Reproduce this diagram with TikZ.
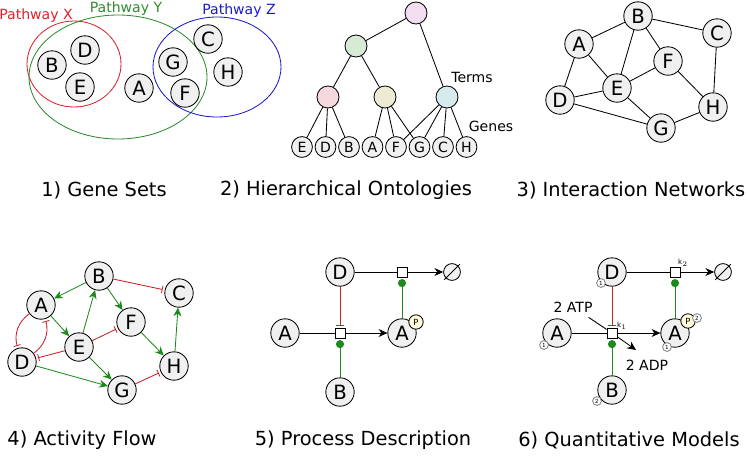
\documentclass[tikz,border=0pt]{standalone}
\usepackage{fontspec}
\setmainfont{DejaVu Sans}
\usetikzlibrary{arrows.meta, calc}

\definecolor{actgreen}{HTML}{1C8A1C}
\definecolor{inhred}{HTML}{C8202A}
\definecolor{setred}{HTML}{E0202A}
\definecolor{setgreen}{HTML}{2E8B2E}
\definecolor{setblue}{HTML}{1A1ACC}
\definecolor{termtop}{HTML}{F3DDF0}
\definecolor{termgreen}{HTML}{D6EAD6}
\definecolor{termpink}{HTML}{F6D9DC}
\definecolor{termyellow}{HTML}{EEEBD4}
\definecolor{termblue}{HTML}{D6EBEE}

\begin{document}
\begin{tikzpicture}[
    x=0.025cm, y=-0.025cm,
    every node/.style={font=\fontsize{14}{14}\selectfont},
    gen/.style={circle, draw, fill=gray!12, minimum size=7.1mm, inner sep=0pt},
    smallgen/.style={circle, draw, fill=gray!12, minimum size=5.2mm, inner sep=0pt, font=\fontsize{10}{10}\selectfont},
    term/.style={circle, draw, minimum size=5.5mm, inner sep=0pt},
    proc/.style={draw, fill=white, minimum size=2.5mm, inner sep=0pt},
    sink/.style={circle, draw, fill=gray!10, minimum size=4.2mm, inner sep=0pt},
    phos/.style={circle, draw, fill=yellow!15, minimum size=3.6mm, inner sep=0pt, font=\fontsize{6}{6}\selectfont},
    cnt/.style={circle, draw=gray, fill=white, minimum size=2.2mm, inner sep=0pt, font=\fontsize{4}{4}\selectfont},
    rate/.style={font=\fontsize{5}{5}\selectfont},
    lab/.style={font=\fontsize{10}{12}\selectfont},
    caption/.style={font=\fontsize{13.8}{16}\selectfont},
    act/.style={-{Stealth[length=2.2mm, width=2mm]}, color=actgreen},
    inh/.style={-{Bar[width=1.8mm]}, color=inhred, shorten >=1.5pt},
    cat/.style={-{Circle[length=2mm]}, color=actgreen, shorten >=1.2pt},
    flow/.style={-{Stealth[length=2.2mm, width=2mm]}},
    semithick,
    ]
    \useasboundingbox (0,0) rectangle (748,456);

    % 1) Gene Sets
    \draw[setred] (74,64) ellipse (47 and 43);
    \draw[setgreen] (118,77) ellipse (89 and 62);
    \draw[setblue] (217,67) ellipse (64 and 50);
    \node[lab, text=setred] (pwX) at (36,16) {Pathway X};
    \node[lab, text=setgreen] (pwY) at (126,9) {Pathway Y};
    \node[lab, text=setblue] (pwZ) at (239,11) {Pathway Z};
    \node[gen] (B1) at (52,65) {B};
    \node[gen] (D1) at (85,50) {D};
    \node[gen] (E1) at (80,87) {E};
    \node[gen] (A1) at (139,88) {A};
    \node[gen] (G1) at (173,62) {G};
    \node[gen] (F1) at (185,93) {F};
    \node[gen] (C1) at (208,39) {C};
    \node[gen] (H1) at (228,72) {H};

    % 2) Hierarchical Ontologies
    \node[term, fill=termtop] (root) at (416,13) {};
    \node[term, fill=termgreen] (tgreen) at (356,46) {};
    \node[term, fill=termpink] (tpink) at (328,97) {};
    \node[term, fill=termyellow] (tyellow) at (385,97) {};
    \node[term, fill=termblue] (tblue) at (447,97) {};
    \node[lab] (terms) at (472,77) {Terms};
    \node[lab] (genes) at (491,126) {Genes};
    \node[smallgen] (E2) at (302,147) {E};
    \node[smallgen] (D2) at (325.5,147) {D};
    \node[smallgen] (B2) at (349,147) {B};
    \node[smallgen] (A2) at (372.5,147) {A};
    \node[smallgen] (F2) at (396,147) {F};
    \node[smallgen] (G2) at (419.5,147) {G};
    \node[smallgen] (C2) at (443,147) {C};
    \node[smallgen] (H2) at (466.5,147) {H};
    \path
    (root) edge (tgreen)
    (root) edge (tblue)
    (tgreen) edge (tpink)
    (tgreen) edge (tyellow)
    (tpink) edge (E2) (tpink) edge (D2) (tpink) edge (B2)
    (tyellow) edge (A2) (tyellow) edge (F2) (tyellow) edge (G2)
    (tblue) edge (F2) (tblue) edge (G2) (tblue) edge (C2) (tblue) edge (H2)
    ;

    % 3) Interaction Networks
    \node[gen] (B3) at (638,16) {B};
    \node[gen] (A3) at (579,44) {A};
    \node[gen] (C3) at (717,33) {C};
    \node[gen] (F3) at (668,61) {F};
    \node[gen] (E3) at (617,88) {E};
    \node[gen] (D3) at (560,100) {D};
    \node[gen] (H3) at (713,107) {H};
    \node[gen] (G3) at (661,128) {G};
    \path
    (A3) edge (B3) (B3) edge (C3) (B3) edge (E3) (B3) edge (F3)
    (A3) edge (D3) (A3) edge (E3) (D3) edge (E3) (E3) edge (F3)
    (F3) edge (H3) (C3) edge (H3) (D3) edge (G3) (E3) edge (G3)
    (G3) edge (H3)
    ;

    % 4) Activity Flow
    \node[gen] (B4) at (99,276) {B};
    \node[gen] (A4) at (41,305) {A};
    \node[gen] (C4) at (179,293) {C};
    \node[gen] (F4) at (131,322) {F};
    \node[gen] (E4) at (79,347) {E};
    \node[gen] (D4) at (22,362) {D};
    \node[gen] (H4) at (174,366) {H};
    \node[gen] (G4) at (122,390) {G};
    \path
    (B4) edge[act] (A4)
    (B4) edge[inh] (C4)
    (B4) edge[act] (F4)
    (A4) edge[act] (E4)
    (E4) edge[act] (B4)
    (E4) edge[inh] (F4)
    (E4) edge[inh] (D4)
    (E4) edge[act] (G4)
    (D4) edge[act] (G4)
    (F4) edge[act] (H4)
    (H4) edge[act] (C4)
    (G4) edge[inh] (H4)
    (A4) edge[inh, bend right=35] (D4)
    (D4) edge[inh, bend right=35] (A4)
    ;

    % 5) Process Description
    \node[gen] (D5) at (340,272) {D};
    \node[gen] (A5) at (285,333) {A};
    \node[gen] (Ap5) at (402,333) {A};
    \node[gen] (B5) at (340,392) {B};
    \node[phos] (P5) at (416,322) {P};
    \node[proc] (pa5) at (340,333) {};
    \node[proc] (pb5) at (402,272) {};
    \node[sink] (sink5) at (452,272) {};
    \draw[shorten <=-1.5pt, shorten >=-1.5pt] (sink5.south west) -- (sink5.north east);
    \path
    (A5) edge (pa5)
    (pa5) edge[flow] (Ap5)
    (D5) edge (pb5)
    (pb5) edge[flow] (sink5)
    (D5) edge[inh] (pa5)
    (B5) edge[cat] (pa5)
    (Ap5) edge[cat] (pb5)
    ;

    % 6) Quantitative Models
    \node[gen] (D6) at (612,272) {D};
    \node[gen] (A6) at (557,333) {A};
    \node[gen] (Ap6) at (675,333) {A};
    \node[gen] (B6) at (612,390) {B};
    \node[phos] (P6) at (688,321) {P};
    \node[cnt] (nA6) at (544,345) {1};
    \node[cnt] (nD6) at (601,283) {1};
    \node[cnt] (nAp6) at (667,347) {1};
    \node[cnt] (nB6) at (597,401) {2};
    \node[cnt] (nP6) at (697,318) {2};
    \node[lab] (atp) at (573,307) {2 ATP};
    \node[lab] (adp) at (647,365) {2 ADP};
    \coordinate (adptip) at (636,350);
    \node[proc] (pa6) at (612,333) {};
    \node[proc] (pb6) at (675,272) {};
    \node[rate] (k1) at (622,326) {k$_1$};
    \node[rate] (k2) at (683,263) {k$_2$};
    \node[sink] (sink6) at (723,272) {};
    \draw[shorten <=-1.5pt, shorten >=-1.5pt] (sink6.south west) -- (sink6.north east);
    \path
    (A6) edge (pa6)
    (pa6) edge[flow] (Ap6)
    (D6) edge (pb6)
    (pb6) edge[flow] (sink6)
    (D6) edge[inh] (pa6)
    (B6) edge[cat] (pa6)
    (Ap6) edge[cat] (pb6)
    (atp) edge (pa6)
    (pa6) edge[flow] (adptip)
    ;

    % Beschriftungen
    \node[caption] (cap1) at (104,190) {1) Gene Sets};
    \node[caption] (cap2) at (346,190) {2) Hierarchical Ontologies};
    \node[caption] (cap3) at (631,190) {3) Interaction Networks};
    \node[caption] (cap4) at (82,440) {4) Activity Flow};
    \node[caption] (cap5) at (363,440) {5) Process Description};
    \node[caption] (cap6) at (629,440) {6) Quantitative Models};
\end{tikzpicture}
\end{document}
